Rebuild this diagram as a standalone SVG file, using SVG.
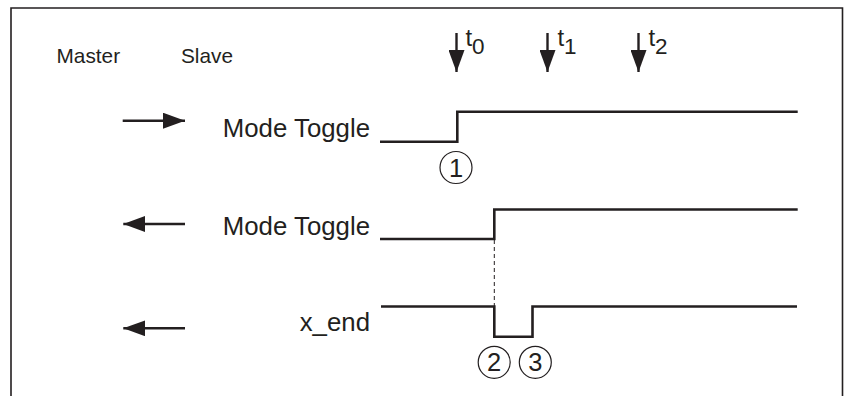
<svg xmlns="http://www.w3.org/2000/svg" width="850" height="396" viewBox="0 0 850 396">
<style>
text{font-family:"Liberation Sans",Arial,sans-serif;fill:#231f20}
.lbl{font-size:25.8px;text-anchor:end}
.hdr{font-size:20.8px}
.sig{fill:none;stroke:#231f20;stroke-width:2.6;stroke-linejoin:miter;stroke-linecap:butt}
.arr{fill:none;stroke:#231f20;stroke-width:2.4}
.num{font-size:25.5px;text-anchor:middle}
.circ{fill:none;stroke:#231f20;stroke-width:1.2}
.tt{font-size:24px}
.sub{font-size:22.5px}
</style>
<defs>
<marker id="ah" viewBox="0 0 22 16" refX="22" refY="8" markerWidth="22" markerHeight="16" markerUnits="userSpaceOnUse" orient="auto">
<path d="M0,0 L22,8 L0,16 Z" fill="#231f20"/>
</marker>
</defs>
<path id="frame" d="M11,396 V8 H842.5 V396" fill="none" stroke="#231f20" stroke-width="1.6"/>
<g id="headers">
<text class="hdr" x="56.5" y="62.5">Master</text>
<text class="hdr" x="181" y="62.5">Slave</text>
</g>
<g id="time-markers">
<g id="t0">
<line class="arr" x1="456.5" y1="33" x2="456.5" y2="72" marker-end="url(#ah)"/>
<text class="tt" x="465.5" y="46">t</text><text class="sub" x="472" y="53.5">0</text>
</g>
<g id="t1">
<line class="arr" x1="547.5" y1="33" x2="547.5" y2="72" marker-end="url(#ah)"/>
<text class="tt" x="557.5" y="46">t</text><text class="sub" x="564" y="53.5">1</text>
</g>
<g id="t2">
<line class="arr" x1="638.5" y1="33" x2="638.5" y2="72" marker-end="url(#ah)"/>
<text class="tt" x="648.5" y="46">t</text><text class="sub" x="655" y="53.5">2</text>
</g>
</g>
<g id="signal-master-mode-toggle">
<text class="lbl" x="370" y="137">Mode Toggle</text>
<path class="sig" d="M380,141.7 H457.3 V111.7 H797.7"/>
</g>
<g id="signal-slave-mode-toggle">
<text class="lbl" x="370" y="234.5">Mode Toggle</text>
<path class="sig" d="M380,239 H494.3 V209.5 H797.7"/>
</g>
<g id="signal-x-end">
<text class="lbl" x="370" y="331">x_end</text>
<path class="sig" d="M381,306.5 H494.3 V336.7 H532.5 V306.5 H797"/>
</g>
<g id="connectors">
<line class="arr" x1="122.7" y1="120.7" x2="185" y2="120.7" marker-end="url(#ah)"/>
<line class="arr" x1="185" y1="224" x2="123.3" y2="224" marker-end="url(#ah)"/>
<line class="arr" x1="185" y1="328.3" x2="123.3" y2="328.3" marker-end="url(#ah)"/>
<line x1="494.3" y1="240" x2="494.3" y2="306" stroke="#231f20" stroke-width="1" stroke-dasharray="4,3"/>
</g>
<g id="marker-1">
<circle class="circ" cx="456" cy="167.5" r="16"/>
<text class="num" x="456" y="176.5">1</text>
</g>
<g id="marker-2">
<circle class="circ" cx="494.2" cy="362.3" r="16"/>
<text class="num" x="494.2" y="371.3">2</text>
</g>
<g id="marker-3">
<circle class="circ" cx="535.3" cy="362.3" r="16"/>
<text class="num" x="535.3" y="371.3">3</text>
</g>
</svg>
